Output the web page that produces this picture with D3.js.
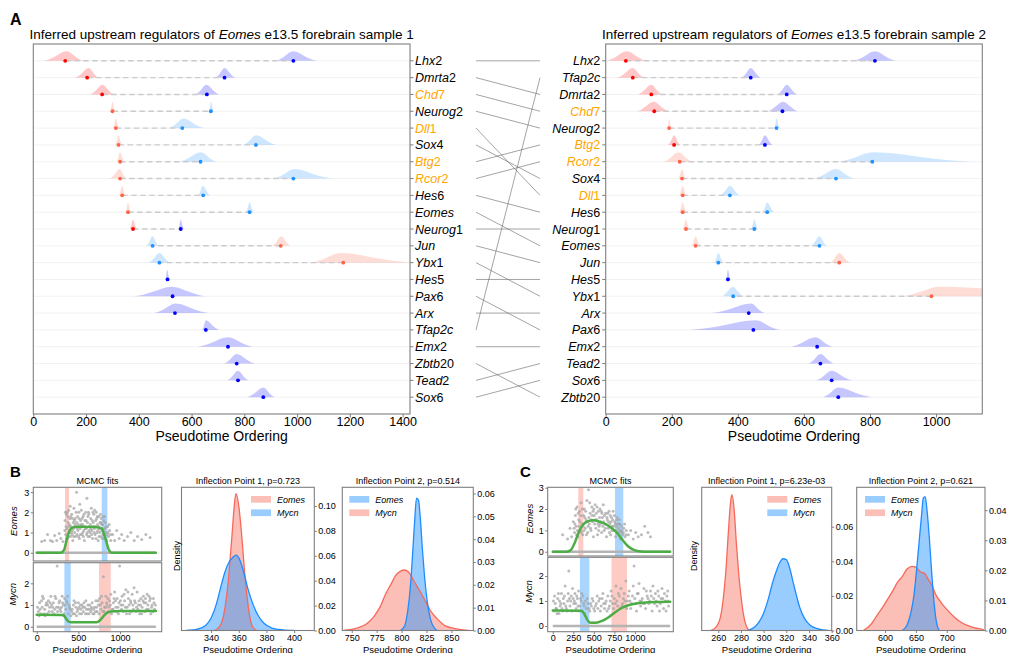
<!DOCTYPE html>
<html>
<head>
<meta charset="utf-8">
<script src="https://cdn.jsdelivr.net/npm/d3@7"></script>
<style>
  body { margin: 0; background: #fff; }
  svg { display: block; }
  text { font-family: "Liberation Sans", Arial, sans-serif; fill: #000; }
</style>
</head>
<body>
<script>
// ---------- panel A : ridge data (pseudotime: [lo, peak, hi, median]) ----------
const genes1 = ["Lhx2","Dmrta2","Chd7","Neurog2","Dll1","Sox4","Btg2","Rcor2","Hes6","Eomes",
  "Neurog1","Jun","Ybx1","Hes5","Pax6","Arx","Tfap2c","Emx2","Zbtb20","Tead2","Sox6"];
const genes2 = ["Lhx2","Tfap2c","Dmrta2","Chd7","Neurog2","Btg2","Rcor2","Sox4","Dll1","Hes6",
  "Neurog1","Eomes","Jun","Hes5","Ybx1","Arx","Pax6","Emx2","Tead2","Sox6","Zbtb20"];
const highlighted = ["Chd7","Dll1","Btg2","Rcor2"];

const s1Red = [
  [38,127,190,121],[158,210,247,204],[215,262,306,261],[291,300,310,300],[302,313,325,313],
  [310,323,336,323],[316,329,345,329],[289,328,352,329],[324,337,348,337],[349,359,370,359],
  [366,378,392,378],[905,940,975,938],[1050,1165,1440,1175],
  null,null,null,null,null,null,null,null];
const s1RedStrong = [1,1,1,0,0,0,0,0,0,0,1,0,0,0,0,0,0,0,0,0,0];
const s1Blue = [
  [918,985,1076,986],[690,725,766,725],[614,656,705,658],[665,674,684,673],[513,570,648,565],
  [795,845,922,844],[553,635,694,634],[909,990,1137,986],[625,642,671,644],[805,820,835,820],
  [550,559,570,559],[428,452,475,452],[437,478,519,478],[500,508,516,509],[380,525,656,528],
  [456,540,668,537],[640,654,705,654],[623,738,832,738],[722,771,842,771],[734,776,816,776],
  [810,872,915,872]];
const s1BlueStrong = [1,1,1,0,0,0,0,0,0,0,1,0,0,1,1,1,1,1,1,1,1];

const s2Red = [
  [1,64,124,61],[35,82,116,82],[97,138,171,138],[94,145,192,147],[187,192,198,192],
  [189,207,225,207],[176,220,262,224],[220,231,242,231],[222,233,244,233],[222,233,244,233],
  [233,243,253,243],[260,272,286,272],[679,707,741,707],null,[895,1010,1600,986],
  null,null,null,null,null,null];
const s2RedStrong = [1,1,1,1,0,1,0,0,0,0,0,0,0,0,0,0,0,0,0,0,0];
const s2Blue = [
  [749,815,880,815],[411,439,470,439],[520,548,580,548],[489,537,583,535],[510,517,527,517],
  [463,482,505,482],[704,810,1107,807],[628,697,754,697],[346,376,406,376],[474,489,510,489],
  [440,450,460,450],[621,647,669,647],[328,341,356,341],[364,370,378,370],[351,385,417,386],
  [318,440,482,433],[253,455,527,447],[560,635,686,640],[613,650,692,650],[636,684,747,684],
  [657,704,807,704]];
const s2BlueStrong = [1,1,1,1,0,1,0,0,0,0,0,0,0,1,0,1,1,1,1,1,1];

const ticksA1 = [0,200,400,600,800,1000,1200,1400];
const ticksA2 = [0,200,400,600,800,1000];

// ---------- panels B, C : MCMC fits (pseudotime:expression) ----------
const scatterBTop = `60:0.55 95:0.6 130:0.9 165:0.6 190:0.55 215:0.85 240:0.6 270:0.95 290:0.7 315:0.55
340:1.6 348:0.9 355:1.9 362:1.2 370:0.7 377:1.5 384:2.1 390:1.0 398:1.7 405:0.8 412:1.3 420:1.9 427:1.1
433:0.6 440:1.5 447:2.2 455:1.0 462:1.7 470:1.3 478:3.0 484:0.9 490:1.8 498:1.4 505:2.0 512:0.7 520:1.2
527:1.6 535:2.1 542:0.9 550:1.4 557:1.8 565:1.1 572:0.6 580:1.6 588:2.0 595:1.2 602:2.7 610:1.5 617:0.8
625:1.9 632:1.3 640:1.0 648:1.7 655:2.2 662:1.1 670:0.7 678:1.5 685:1.9 692:1.2 700:0.9 708:1.6 715:2.0
722:1.0 730:1.4 737:0.6 745:1.8 752:1.2 760:1.5 767:0.8 775:1.7 782:1.1 790:1.4 797:0.9 805:1.6 812:0.7
820:1.2 830:1.0 840:0.6 850:1.3 862:0.8 875:1.1 888:0.6 910:0.9 935:0.6 960:1.1 990:0.7 1020:0.9 1050:0.6
1090:0.8 1130:1.0 1170:0.6 1210:0.8 1260:0.65 1310:0.9 1360:0.75
352:1.3 366:2.0 381:0.8 395:1.4 409:1.8 424:0.9 438:1.2 452:1.6 466:0.8 481:1.5 495:1.1 509:1.7 524:0.9
538:1.3 553:1.0 567:1.9 584:1.2 599:0.9 614:1.8 628:1.1 644:1.4 659:0.9 674:2.0 689:1.0 704:1.3 719:1.7
734:1.1 749:0.8 764:1.9 779:1.4 794:1.8 809:1.2 824:1.5 845:0.9
337:1.1 344:2.0 359:0.7 373:1.8 387:1.3 401:2.3 416:1.0 430:1.7 444:0.8 459:1.4 473:2.0 488:1.2 502:0.8
517:2.4 531:1.4 545:1.7 560:0.8 575:1.3 591:1.6 606:1.0 621:2.0 636:0.8 651:1.2 666:1.6 681:1.3 696:2.1
711:0.7 726:1.8 741:1.3 756:1.0 771:1.5 786:0.7 801:1.1 816:1.8 835:1.3 855:1.0 870:1.4 885:0.9`;
const scatterBBottom = `20:0.7 35:1.1 50:0.6 65:0.9 80:1.3 95:0.8 110:1.0 125:0.6 140:1.2 155:0.9 170:1.4
185:0.7 200:1.1 215:0.8 230:1.3 245:2.8 260:0.9 275:1.2 290:0.7 305:1.4 320:1.0 335:1.3 350:0.8 365:1.1
380:0.6 395:0.9 410:0.5 425:0.8 440:1.0 455:0.6 470:0.9 485:0.7 500:1.1 515:0.6 530:0.8 545:1.0 560:0.7
575:0.9 590:1.2 605:0.6 620:0.8 635:1.0 650:0.7 665:1.1 680:0.8 695:0.9 710:1.2 725:0.7 740:1.0 755:1.3
770:0.8 785:1.1 800:2.3 815:0.9 830:1.4 845:1.0 860:0.7 875:1.2 890:1.5 905:0.8 920:1.1 935:1.6 950:0.9
965:1.3 980:0.6 995:2.8 1010:1.0 1025:1.4 1040:0.7 1055:1.2 1070:1.7 1085:0.9 1100:1.3 1115:0.6 1130:1.1
1145:1.5 1160:0.8 1175:1.2 1190:0.7 1205:1.6 1220:1.0 1235:0.6 1250:1.3 1265:0.9 1280:1.4 1295:0.7
1310:1.1 1325:1.5 1340:0.8 1355:1.2 1370:0.6 1385:1.0 1400:1.3 1415:0.8
28:0.5 58:1.2 88:0.6 118:1.1 148:0.7 178:1.0 208:0.6 238:0.9 268:1.1 298:0.9 328:0.6 358:1.2 388:1.0
418:0.7 448:1.2 478:0.5 508:0.9 538:0.6 568:1.1 598:0.8 628:0.6 658:0.9 688:0.6 718:0.9 748:0.6 778:1.4
808:0.7 838:1.1 868:0.9 898:0.6 928:1.3 958:0.7 988:1.1 1018:0.8 1048:1.5 1078:0.6 1108:1.0 1138:0.7
1168:1.8 1198:0.9 1228:1.2 1258:0.6 1288:1.1 1318:0.8 1348:1.4 1378:0.9 1408:1.1
10:0.9 40:0.8 70:1.4 100:0.5 130:1.0 160:1.1 190:0.9 220:1.4 250:0.7 280:0.8 310:1.1 340:1.0 370:1.4
400:0.8 435:0.6 465:1.1 495:0.8 525:1.0 555:0.9 585:0.6 615:1.0 645:0.8 675:0.6 705:0.7 735:1.2 765:1.0
795:0.7 825:0.9 855:1.3 885:1.0 915:0.8 945:1.2 975:0.9 1005:1.2 1035:1.0 1065:0.9 1095:1.6 1125:1.2
1155:1.0 1185:1.1 1215:0.8 1245:1.0 1275:1.2 1305:1.3 1335:1.0 1365:1.3 1395:0.7 1425:1.0`;
const scatterCTop = `120:0.8 180:0.6 210:1.1 230:0.7 250:1.4
265:0.9 275:1.7 285:1.2 295:2.1 305:0.7 315:1.5 325:1.9 335:1.0 345:2.3 355:1.3 365:0.8 375:1.7 385:2.0
395:1.1 405:1.5 415:2.4 425:0.9 435:2.9 445:1.3 455:1.8 465:1.0 475:2.1 485:1.4 495:0.7 505:1.7 515:2.2
525:1.1 535:1.5 545:0.8 555:1.9 565:1.2 575:2.0 585:1.4 595:0.9 605:1.6 615:2.2 625:1.0 635:1.3 645:1.8
655:0.7 665:1.5 675:1.1 685:1.9 695:1.3 705:0.8 715:1.6 725:1.2 735:1.9 745:1.0 755:1.4 765:0.7 775:1.2
785:1.6 795:0.9 805:1.3 815:1.0 825:0.6 835:1.2 850:0.8 865:1.1 880:0.7 895:1.0
270:1.3 290:0.8 310:1.8 330:1.4 350:0.9 370:1.2 390:1.6 410:0.8 430:1.2 450:2.3 470:1.5 490:1.9 510:1.3
530:1.8 550:1.3 570:1.6 590:1.9 610:1.2 630:1.7 650:1.3 670:1.8 690:0.9 710:1.4 730:1.5 750:1.7 770:1.0
790:1.3 810:1.5 830:0.9 920:0.8 950:1.0 980:0.6 1010:0.9 1040:0.7 1080:0.8 1120:1.2 1160:0.9 1190:0.7
260:1.1 280:2.0 300:1.0 320:1.2 340:1.7 360:2.0 380:1.0 400:1.9 420:1.4 440:1.6 460:1.1 480:1.7 500:2.0
520:1.5 540:2.1 560:1.0 580:1.3 600:1.8 620:1.4 640:1.1 660:1.6 680:1.4 700:1.7 720:1.0 740:1.2 760:1.3
780:1.5 800:1.1 820:1.3 840:1.0 860:0.9 875:1.3 890:0.8`;
const scatterCBottom = `15:0.6 30:0.9 45:0.7 60:1.1 75:0.5 90:0.8 105:1.3 120:0.6 135:0.9 150:1.6 165:0.7
180:1.0 195:2.2 210:0.8 225:1.2 240:1.5 255:0.9 270:1.3 285:0.7 300:1.1 315:1.4 330:0.8 345:1.0 360:0.6
375:0.9 390:0.5 410:0.7 430:0.9 450:0.6 470:0.8 490:1.0 510:0.6 530:0.9 550:0.7 570:1.1 590:0.8 610:1.3
630:0.7 650:1.0 670:1.2 690:0.8 710:1.4 730:0.9 750:1.1 770:1.6 790:0.8 810:1.2 830:1.5 850:0.9 870:1.3
890:1.8 910:1.0 930:1.4 950:0.7 970:1.2 990:2.4 1010:0.9 1030:1.3 1050:1.7 1070:0.8 1090:1.1 1110:1.5
1130:0.7 1150:1.2 1170:0.9 1190:1.4 1210:0.6 1230:1.1 1250:1.3 1270:0.8 1290:1.2 1310:0.9 1330:1.5
1350:0.7 1370:1.0 1390:1.2 1410:0.8
22:1.2 52:0.5 82:1.0 112:0.7 142:1.2 172:0.6 202:1.1 232:0.6 262:1.0 292:1.2 322:0.6 352:1.3 382:0.8
420:1.1 460:0.9 500:0.7 540:1.2 580:0.6 620:0.9 660:0.6 700:1.0 740:0.7 780:1.0 820:0.7 860:1.1 900:0.7
940:1.0 980:1.6 1020:0.6 1060:1.0 1100:0.9 1140:1.4 1180:1.0 1220:1.6 1260:1.0 1300:0.6 1340:1.1
1380:0.6 1400:1.4
8:1.0 38:0.7 68:1.3 98:0.9 128:1.1 158:0.8 188:1.3 218:1.0 248:1.1 278:0.9 308:0.8 338:1.1 368:1.2
398:1.0 440:0.7 480:1.1 520:0.8 560:1.0 600:1.1 640:0.9 680:0.7 720:1.2 760:0.9 800:1.3 840:0.8 880:1.0
920:1.2 960:0.9 1000:1.1 1040:1.3 1080:1.0 1120:0.9 1160:1.1 1200:1.2 1240:0.9 1280:1.4 1320:1.1
1360:1.3 1400:1.0`;
const zeroSpan = [0, 1430];

const fitBTop = [[0,0],[290,0],[330,0.15],[360,0.65],[395,1.1],[430,1.25],[500,1.29],[700,1.27],
  [780,1.2],[805,0.95],[832,0.6],[860,0.2],[890,0.02],[920,0],[1430,0]];
const fitBBottom = [[0,0.55],[300,0.54],[330,0.5],[355,0.35],[380,0.24],[410,0.21],[720,0.21],
  [760,0.3],[800,0.48],[840,0.63],[890,0.7],[1000,0.72],[1430,0.72]];
const fitCTop = [[0,0],[170,0],[220,0.08],[270,0.45],[320,0.95],[370,1.28],[430,1.43],[490,1.47],
  [560,1.42],[640,1.3],[720,1.1],[790,0.85],[850,0.55],[910,0.28],[980,0.1],[1050,0.02],[1110,0],[1430,0]];
const fitCBottom = [[0,0.62],[340,0.61],[370,0.55],[400,0.38],[430,0.2],[460,0.13],[520,0.13],
  [600,0.2],[680,0.35],[760,0.55],[840,0.72],[920,0.83],[1000,0.89],[1100,0.93],[1250,0.96],[1430,0.97]];

const bandsBTop = [[340,388],[780,848]];
const bandsBBottom = [[332,408],[748,888]];
const bandsCTop = [[311,372],[758,859]];
const bandsCBottom = [[331,445],[715,904]];

// ---------- inflection point posteriors: [pseudotime, density] ----------
const dB1Eomes = [[342,0],[346,0.003],[349,0.012],[352,0.035],[355,0.075],[357,0.103],[358,0.11],[360,0.1],
  [362,0.078],[364,0.05],[366,0.027],[368,0.011],[370,0.003],[373,0]];
const dB1Mycn = [[322,0],[330,0.001],[336,0.004],[340,0.01],[344,0.022],[347,0.035],[350,0.047],[353,0.055],
  [356,0.059],[358,0.0605],[361,0.056],[364,0.045],[367,0.032],[370,0.022],[374,0.012],[378,0.006],
  [384,0.002],[392,0.0005],[400,0]];
const dB2Eomes = [[799,0],[803,0.002],[806,0.008],[809,0.02],[811,0.033],[813,0.047],[815,0.058],[817,0.057],
  [819,0.048],[821,0.035],[823,0.024],[826,0.012],[829,0.005],[833,0.001],[836,0]];
const dB2Mycn = [[742,0],[755,0.001],[765,0.003],[772,0.006],[778,0.01],[784,0.016],[789,0.02],[794,0.024],
  [799,0.026],[803,0.0265],[808,0.025],[812,0.022],[816,0.019],[820,0.016],[825,0.012],[830,0.008],
  [836,0.005],[844,0.002],[855,0.0007],[868,0]];
const dC1Eomes = [[253,0],[258,0.002],[262,0.008],[265,0.022],[267,0.037],[269,0.058],[271,0.075],[272,0.0785],
  [274,0.07],[276,0.05],[278,0.033],[280,0.02],[282,0.01],[284,0.004],[287,0]];
const dC1Mycn = [[286,0],[292,0.002],[296,0.005],[300,0.01],[304,0.018],[308,0.028],[311,0.034],[314,0.039],
  [317,0.0415],[320,0.041],[323,0.036],[326,0.028],[329,0.02],[332,0.013],[336,0.007],[341,0.003],
  [348,0.001],[357,0]];
const dC2Eomes = [[628,0],[636,0.002],[642,0.006],[647,0.012],[651,0.02],[655,0.029],[659,0.038],[662,0.044],
  [665,0.0445],[668,0.04],[672,0.03],[676,0.018],[680,0.008],[684,0.002],[688,0]];
const dC2Mycn = [[565,0],[577,0.002],[587,0.005],[597,0.008],[603,0.01],[612,0.013],[620,0.016],[628,0.018],
  [636,0.0205],[644,0.0213],[650,0.021],[657,0.0195],[664,0.019],[670,0.017],[676,0.015],[682,0.012],
  [690,0.0095],[700,0.007],[712,0.0045],[725,0.0025],[740,0.0012],[760,0.0003]];

// ---------- drawing ----------
const SALMON = "#fa8072", DODGER = "#1e90ff", FRAME = "#7f7f7f", ORANGE = "#ffa500";
const GENE_FONT = "'DejaVu Sans', sans-serif";
const svg = d3.select("body").append("svg").attr("width", 1010).attr("height", 653);
const parsePts = s => s.trim().split(/\s+/).map(p => p.split(":").map(Number));
let clipCount = 0;

function clipRect(x0, y0, x1, y1) {
  const id = "clip" + (clipCount++);
  svg.append("clipPath").attr("id", id).append("rect")
    .attr("x", x0).attr("y", y0).attr("width", x1 - x0).attr("height", y1 - y0);
  return `url(#${id})`;
}

function frame(x0, y0, x1, y1) {
  svg.append("rect").attr("x", x0).attr("y", y0).attr("width", x1 - x0).attr("height", y1 - y0)
    .attr("fill", "none").attr("stroke", FRAME).attr("stroke-width", 1.1);
}

function styleAxis(g, size) {
  g.attr("font-size", size).attr("font-family", "'Liberation Sans', Arial, sans-serif");
  g.select(".domain").remove();
  g.selectAll(".tick line").attr("stroke", FRAME);
  g.selectAll(".tick text").attr("fill", "#000");
}

function geneLabel(t, name) {
  const m = name.match(/^(.*?)(\d*)$/);
  t.append("tspan").attr("font-style", "italic").text(m[1]);
  if (m[2]) t.append("tspan").text(m[2]);
}

function richTitle(x, y, size, parts) {
  const t = svg.append("text").attr("x", x).attr("y", y).attr("font-size", size).attr("text-anchor", "middle");
  parts.forEach(p => t.append("tspan").attr("font-style", p[1] ? "italic" : "normal").text(p[0]));
  return t;
}

function vLabel(x, y, s, size, italic, family) {
  svg.append("text").attr("transform", `translate(${x},${y}) rotate(-90)`)
    .attr("text-anchor", "middle").attr("font-size", size)
    .attr("font-style", italic ? "italic" : "normal")
    .attr("font-family", family || null).text(s);
}

// ---- Panel A ----
const A_TOP = 44, A_BOTTOM = 414;
const rowY = d3.scaleLinear().domain([-1, 21]).range([A_TOP, A_BOTTOM]);

function ridgeProfile(r) {
  const [lo, pk, hi] = r;
  const side = [[0,0],[0.25,0.17],[0.5,0.46],[0.75,0.82]];
  const left = side.map(([f, v]) => [lo + (pk - lo) * f, v]);
  const right = side.slice().reverse().map(([f, v]) => [hi - (hi - pk) * f, v]);
  return left.concat([[pk, 1]], right);
}

function ridgePanel(o) {
  const x = d3.scaleLinear().domain([0, o.xMax]).range([o.left, o.right]);
  const h = (rowY(1) - rowY(0)) * 0.57;
  const g = svg.append("g").attr("clip-path", clipRect(o.left, A_TOP, o.right, A_BOTTOM));

  g.selectAll(null).data(o.genes).join("line")
    .attr("x1", o.left).attr("x2", o.right)
    .attr("y1", (d, i) => rowY(i)).attr("y2", (d, i) => rowY(i))
    .attr("stroke", "#f2f2f2");

  const marks = [];
  o.red.forEach((r, i) => { if (r) marks.push({ i, r, c: o.redStrong[i] ? "#ff0000" : "#ff6347" }); });
  o.blue.forEach((r, i) => { if (r) marks.push({ i, r, c: o.blueStrong[i] ? "#0000ff" : DODGER }); });

  const area = d3.area().x(d => x(d[0])).y0(d => d[2]).y1(d => d[2] - d[1] * h).curve(d3.curveMonotoneX);
  g.selectAll(null).data(marks).join("path")
    .attr("d", m => area(ridgeProfile(m.r).map(p => [p[0], p[1], rowY(m.i)])))
    .attr("fill", m => m.c).attr("fill-opacity", 0.22);

  const pairs = d3.range(o.genes.length).filter(i => o.red[i] && o.blue[i]);
  g.selectAll(null).data(pairs).join("line")
    .attr("x1", i => x(o.red[i][3])).attr("x2", i => x(o.blue[i][3]))
    .attr("y1", i => rowY(i)).attr("y2", i => rowY(i))
    .attr("stroke", "#cbcbcb").attr("stroke-width", 1.4).attr("stroke-dasharray", "5.5,3.5");

  g.selectAll(null).data(marks).join("circle")
    .attr("cx", m => x(m.r[3])).attr("cy", m => rowY(m.i)).attr("r", 1.9).attr("fill", m => m.c);

  frame(o.left, A_TOP, o.right, A_BOTTOM);

  const ax = svg.append("g").attr("transform", `translate(0,${A_BOTTOM})`)
    .call(d3.axisBottom(x).tickValues(o.ticks).tickFormat(d3.format("d")).tickSize(3.5).tickSizeOuter(0));
  styleAxis(ax, 12.5);
  ax.selectAll(".tick text").attr("y", 3.5);

  svg.append("text").attr("x", (o.left + o.right) / 2).attr("y", 441)
    .attr("text-anchor", "middle").attr("font-size", 14).text("Pseudotime Ordering");

  richTitle((o.left + o.right) / 2, 39, 13.5,
    [["Inferred upstream regulators of ", 0], ["Eomes", 1], [" e13.5 forebrain sample " + o.sample, 0]]);

  const right = o.side === "right";
  const edge = right ? o.right : o.left;
  svg.selectAll(null).data(o.genes).join("line")
    .attr("x1", edge).attr("x2", edge + (right ? 3.5 : -3.5))
    .attr("y1", (d, i) => rowY(i)).attr("y2", (d, i) => rowY(i)).attr("stroke", FRAME);
  o.genes.forEach((name, i) => {
    const t = svg.append("text")
      .attr("x", right ? edge + 5 : edge - 5.5).attr("y", rowY(i) + 4.5)
      .attr("text-anchor", right ? "start" : "end")
      .attr("font-size", 12.5).attr("font-family", GENE_FONT)
      .style("fill", highlighted.includes(name) ? ORANGE : "#000");
    geneLabel(t, name);
  });
}

ridgePanel({ genes: genes1, red: s1Red, redStrong: s1RedStrong, blue: s1Blue, blueStrong: s1BlueStrong,
  left: 33.3, right: 410, xMax: 1428, ticks: ticksA1, side: "right", sample: 1 });
ridgePanel({ genes: genes2, red: s2Red, redStrong: s2RedStrong, blue: s2Blue, blueStrong: s2BlueStrong,
  left: 605.7, right: 982.3, xMax: 1140, ticks: ticksA2, side: "left", sample: 2 });

// rank-change connectors
svg.append("g").selectAll("line").data(genes1).join("line")
  .attr("x1", 476).attr("x2", 540)
  .attr("y1", (d, i) => rowY(i)).attr("y2", d => rowY(genes2.indexOf(d)))
  .attr("stroke", "#666").attr("stroke-width", 0.6);

svg.append("text").attr("x", 10).attr("y", 25).attr("font-size", 16).attr("font-weight", "bold").text("A");

// ---- Panels B, C : MCMC fits ----
function fitPanel(o) {
  const x = d3.scaleLinear().domain(o.xDomain).range([o.left, o.right]);
  const y = d3.scaleLinear().domain(o.yDomain).range([o.bottom, o.top]);
  const g = svg.append("g").attr("clip-path", clipRect(o.left, o.top, o.right, o.bottom));

  o.bands.forEach((b, k) => {
    g.append("rect").attr("x", x(b[0])).attr("width", x(b[1]) - x(b[0]))
      .attr("y", o.top).attr("height", o.bottom - o.top)
      .attr("fill", o.bandColors[k]).attr("fill-opacity", o.bandColors[k] === SALMON ? 0.42 : 0.38);
  });
  g.append("line").attr("x1", x(zeroSpan[0])).attr("x2", x(zeroSpan[1]))
    .attr("y1", y(0)).attr("y2", y(0)).attr("stroke", "#b4b4b4").attr("stroke-width", 2.6);
  g.selectAll(null).data(parsePts(o.points)).join("circle")
    .attr("cx", d => x(d[0])).attr("cy", d => y(d[1])).attr("r", 1.5)
    .attr("fill", "#a5a5a5").attr("fill-opacity", 0.75);
  g.append("path").attr("d", d3.line().x(d => x(d[0])).y(d => y(d[1])).curve(d3.curveMonotoneX)(o.fit))
    .attr("fill", "none").attr("stroke", "#4cad45").attr("stroke-width", 2.5).attr("stroke-linecap", "round");

  frame(o.left, o.top, o.right, o.bottom);

  const ay = svg.append("g").attr("transform", `translate(${o.left},0)`)
    .call(d3.axisLeft(y).tickValues(o.yTicks).tickFormat(d3.format("d")).tickSize(2.5).tickPadding(1.5));
  styleAxis(ay, 9);

  if (o.xTicks) {
    const ax = svg.append("g").attr("transform", `translate(0,${o.bottom})`)
      .call(d3.axisBottom(x).tickValues(o.xTicks).tickFormat(d3.format("d")).tickSize(2.5).tickSizeOuter(0));
    styleAxis(ax, 9);
    ax.selectAll(".tick text").attr("y", 9).attr("dy", 0);
    svg.append("text").attr("x", (o.left + o.right) / 2).attr("y", 652.5)
      .attr("text-anchor", "middle").attr("font-size", 9.5).text("Pseudotime Ordering");
  }
  if (o.title) {
    svg.append("text").attr("x", (o.left + o.right) / 2).attr("y", 484.3)
      .attr("text-anchor", "middle").attr("font-size", 9).text(o.title);
  }
  vLabel(o.labelX, (o.top + o.bottom) / 2 - 3, o.label, 9.5, true, GENE_FONT);
}

const xDomB = [-41, 1500], xDomC = [-62, 1468];
fitPanel({ left: 33.3, right: 161.7, top: 487.3, bottom: 561, xDomain: xDomB, yDomain: [-0.41, 3.24],
  yTicks: [0,1,2,3], points: scatterBTop, fit: fitBTop, bands: bandsBTop, bandColors: [SALMON, DODGER],
  label: "Eomes", labelX: 17, title: "MCMC fits" });
fitPanel({ left: 33.3, right: 161.7, top: 562.7, bottom: 631.7, xDomain: xDomB, yDomain: [-0.23, 2.95],
  yTicks: [0,1,2], points: scatterBBottom, fit: fitBBottom, bands: bandsBBottom, bandColors: [DODGER, SALMON],
  label: "Mycn", labelX: 16, xTicks: [0,500,1000] });
fitPanel({ left: 547.7, right: 673.3, top: 487.3, bottom: 556, xDomain: xDomC, yDomain: [-0.2, 3.02],
  yTicks: [0,1,2,3], points: scatterCTop, fit: fitCTop, bands: bandsCTop, bandColors: [SALMON, DODGER],
  label: "Eomes", labelX: 533, title: "MCMC fits" });
fitPanel({ left: 547.7, right: 673.3, top: 557.3, bottom: 631.7, xDomain: xDomC, yDomain: [-0.23, 2.75],
  yTicks: [0,1,2], points: scatterCBottom, fit: fitCBottom, bands: bandsCBottom, bandColors: [DODGER, SALMON],
  label: "Mycn", labelX: 532, xTicks: [0,250,500,750,1000] });

// ---- inflection point densities ----
const D_TOP = 487.3, D_BOTTOM = 630.5;
function densityPanel(o) {
  const x = d3.scaleLinear().domain(o.xDomain).range([o.left, o.right]);
  const y = d3.scaleLinear().domain([0, o.yMax]).range([D_BOTTOM, D_TOP]);
  const g = svg.append("g").attr("clip-path", clipRect(o.left, D_TOP, o.right, D_BOTTOM));
  const area = d3.area().x(d => x(d[0])).y0(D_BOTTOM).y1(d => y(d[1])).curve(d3.curveMonotoneX);
  const line = d3.line().x(d => x(d[0])).y(d => y(d[1])).curve(d3.curveMonotoneX);
  o.series.forEach(s => {
    g.append("path").attr("d", area(s.data)).attr("fill", s.color)
      .attr("fill-opacity", s.color === SALMON ? 0.5 : 0.45);
  });
  o.series.forEach(s => {
    g.append("path").attr("d", line(s.data)).attr("fill", "none")
      .attr("stroke", s.color === SALMON ? "#f7685a" : "#1e8cff").attr("stroke-width", 1.3);
  });
  frame(o.left, D_TOP, o.right, D_BOTTOM);

  const ay = svg.append("g").attr("transform", `translate(${o.right},0)`)
    .call(d3.axisRight(y).tickValues(o.yTicks).tickFormat(d3.format(".2f")).tickSize(2.5).tickPadding(1.5));
  styleAxis(ay, 9);
  const ax = svg.append("g").attr("transform", `translate(0,${D_BOTTOM})`)
    .call(d3.axisBottom(x).tickValues(o.xTicks).tickSize(2.5).tickSizeOuter(0));
  styleAxis(ax, 9);
  ax.selectAll(".tick text").attr("y", 10).attr("dy", 0);
  svg.append("text").attr("x", (o.left + o.right) / 2).attr("y", 652.5)
    .attr("text-anchor", "middle").attr("font-size", 9.5).text("Pseudotime Ordering");
  svg.append("text").attr("x", (o.left + o.right) / 2).attr("y", 484.3)
    .attr("text-anchor", "middle").attr("font-size", 9).text(o.title);
  if (o.densityX) vLabel(o.densityX, 556, "Density", 9, false);

  o.legend.forEach((s, k) => {
    const cy = 499.3 + k * 13.4;
    svg.append("rect").attr("x", o.legendX).attr("y", cy - 3.3).attr("width", 20).attr("height", 6.7)
      .attr("fill", s.color).attr("fill-opacity", s.color === SALMON ? 0.5 : 0.45);
    svg.append("text").attr("x", o.legendX + 26).attr("y", cy + 3.3)
      .attr("font-size", 9).attr("font-style", "italic").attr("font-family", GENE_FONT).text(s.name);
  });
}

densityPanel({ left: 181.5, right: 314.3, xDomain: [318.6, 414.6], yMax: 0.115,
  xTicks: [340,360,380,400], yTicks: [0,0.02,0.04,0.06,0.08,0.10],
  series: [{ data: dB1Eomes, color: SALMON }, { data: dB1Mycn, color: DODGER }],
  legend: [{ name: "Eomes", color: SALMON }, { name: "Mycn", color: DODGER }], legendX: 251,
  title: "Inflection Point 1, p=0.723", densityX: 180 });
densityPanel({ left: 342.3, right: 473.3, xDomain: [740.5, 872], yMax: 0.0627,
  xTicks: [750,775,800,825,850], yTicks: [0,0.01,0.02,0.03,0.04,0.05,0.06],
  series: [{ data: dB2Mycn, color: SALMON }, { data: dB2Eomes, color: DODGER }],
  legend: [{ name: "Eomes", color: DODGER }, { name: "Mycn", color: SALMON }], legendX: 349.3,
  title: "Inflection Point 2, p=0.514" });
densityPanel({ left: 701.7, right: 831.7, xDomain: [245.4, 360], yMax: 0.0828,
  xTicks: [260,280,300,320,340,360], yTicks: [0,0.02,0.04,0.06],
  series: [{ data: dC1Eomes, color: SALMON }, { data: dC1Mycn, color: DODGER }],
  legend: [{ name: "Eomes", color: SALMON }, { name: "Mycn", color: DODGER }], legendX: 767.3,
  title: "Inflection Point 1, p=6.23e-03", densityX: 696.5 });
densityPanel({ left: 856.7, right: 985, xDomain: [554, 762], yMax: 0.0476,
  xTicks: [600,650,700], yTicks: [0,0.01,0.02,0.03,0.04],
  series: [{ data: dC2Mycn, color: SALMON }, { data: dC2Eomes, color: DODGER }],
  legend: [{ name: "Eomes", color: DODGER }, { name: "Mycn", color: SALMON }], legendX: 865,
  title: "Inflection Point 2, p=0.621" });

svg.append("text").attr("x", 10).attr("y", 477).attr("font-size", 15).attr("font-weight", "bold").text("B");
svg.append("text").attr("x", 520).attr("y", 477).attr("font-size", 15).attr("font-weight", "bold").text("C");
</script>
</body>
</html>
